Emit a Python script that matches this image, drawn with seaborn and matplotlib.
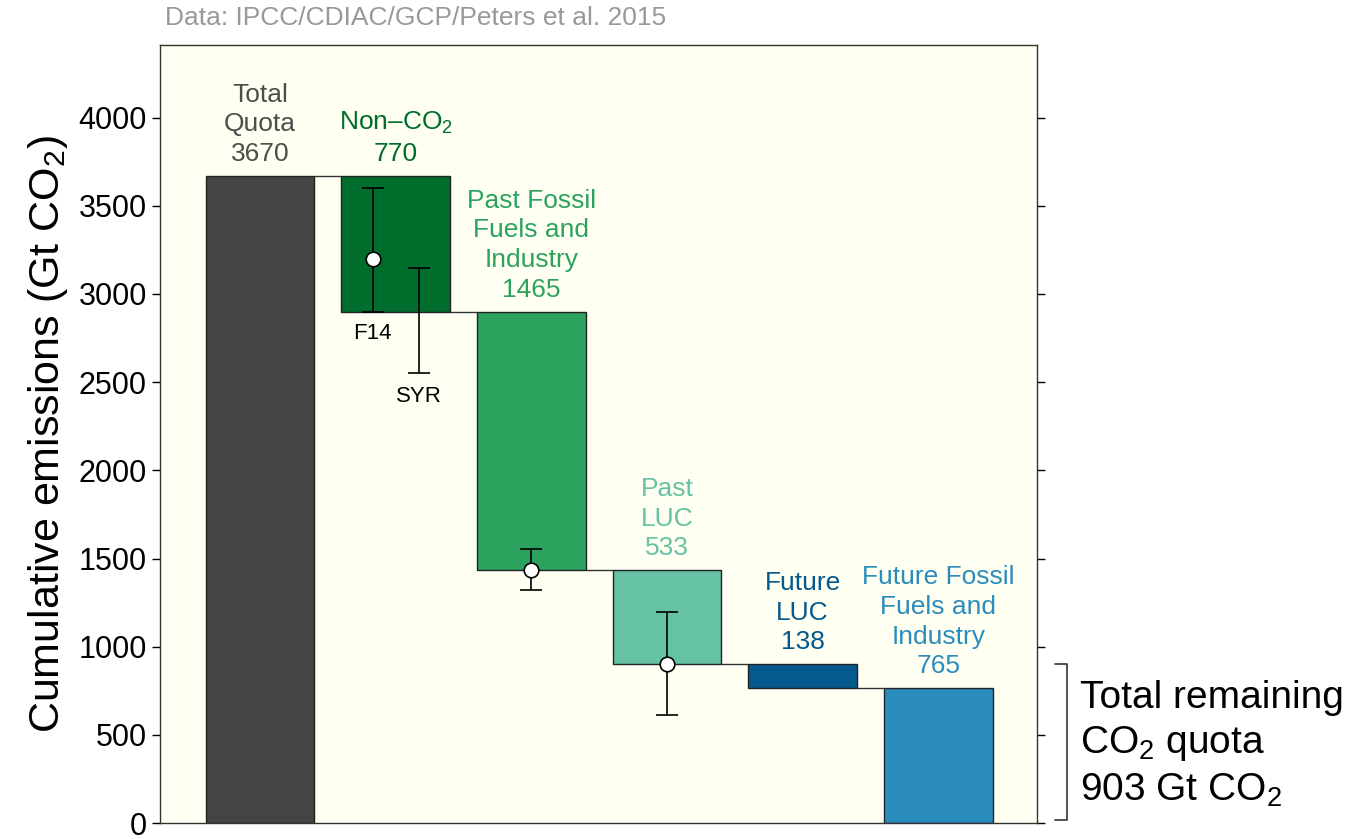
import matplotlib
matplotlib.use("Agg")
import matplotlib.pyplot as plt
import matplotlib.transforms as mtransforms
import seaborn as sns

# waterfall of the cumulative CO2 budget
categories = ["Total Quota", "Non-CO2", "Past FF&I", "Past LUC", "Future LUC", "Future FF&I"]
bar_labels = ["Total\nQuota", "Non\u2013CO$_2$", "Past Fossil\nFuels and\nIndustry", "Past\nLUC", "Future\nLUC",
              "Future Fossil\nFuels and\nIndustry"]
amounts = [3670, 770, 1465, 533, 138, 765]
bar_colors = ["#444444", "#006d2c", "#2ca25f", "#66c2a4", "#045a8d", "#2b8cbe"]
label_colors = ["#4d4d4d", "#006d2c", "#2ca25f", "#66c2a4", "#045a8d", "#2b8cbe"]

# uncertainty ranges (F14, SYR, past fossil, past LUC)
err_x = [0.83, 1.17, 2.0, 3.0]
err_low = [2900, 2550, 1320, 612]
err_high = [3600, 3150, 1552, 1195]
point_x = [0.83, 2.0, 3.0]
point_y = [3200, 1435, 903]
remaining = 903

sns.set_style("ticks")
plt.rcParams["font.family"] = ["Liberation Sans", "DejaVu Sans"]
plt.rcParams["mathtext.fontset"] = "custom"
plt.rcParams["mathtext.rm"] = "Liberation Sans"
plt.rcParams["mathtext.it"] = "Liberation Sans:italic"
plt.rcParams["text.color"] = "black"

# floating bars: first and last start at zero, the rest hang from the previous level
bottoms = [0]
level = amounts[0]
for a in amounts[1:-1]:
    level = level - a
    bottoms.append(level)
bottoms.append(0)
tops = [b + a for b, a in zip(bottoms, amounts)]
tops[-1] = amounts[-1]

fig, ax = plt.subplots(figsize=(13.57, 8.39), dpi=100)
fig.subplots_adjust(left=0.118, right=0.764, bottom=0.019, top=0.946)
ax.set_facecolor("#fffff2")

sns.barplot(x=categories, y=amounts, hue=categories, palette=bar_colors, saturation=1, width=0.8,
            edgecolor="#222222", linewidth=1, legend=False, ax=ax, zorder=2)
for patch, b in zip(ax.patches, bottoms):
    patch.set_y(b)

for i in range(len(categories) - 1):
    ax.hlines(tops[i + 1], i + 0.4, i + 0.6, color="#333333", lw=1, zorder=1)

centers = [(lo + hi) / 2 for lo, hi in zip(err_low, err_high)]
ax.errorbar(err_x, centers, yerr=[[c - lo for c, lo in zip(centers, err_low)],
                                  [hi - c for c, hi in zip(centers, err_high)]],
            fmt="none", ecolor="black", elinewidth=1.2, capsize=8, capthick=1.2, zorder=4)
sns.scatterplot(x=point_x, y=point_y, color="white", edgecolor="black", linewidth=1.2, s=110, zorder=5, ax=ax)

for i, (lab, amt) in enumerate(zip(bar_labels, amounts)):
    ax.annotate(f"{lab}\n{amt}", xy=(i, tops[i]), xytext=(0, 7), textcoords="offset points",
                ha="center", va="bottom", color=label_colors[i], fontsize=19, linespacing=1.3)

ax.annotate("F14", xy=(err_x[0], err_low[0]), xytext=(0, -8), textcoords="offset points",
            ha="center", va="top", fontsize=16, color="black")
ax.annotate("SYR", xy=(err_x[1], err_low[1]), xytext=(0, -9), textcoords="offset points",
            ha="center", va="top", fontsize=16, color="black")

# bracket for the remaining quota
trans = mtransforms.blended_transform_factory(ax.transAxes, ax.transData)
ax.plot([1.021, 1.034, 1.034, 1.021], [remaining, remaining, 20, 20], color="#333333", lw=1.2,
        transform=trans, clip_on=False)
ax.text(1.049, 445, "Total remaining\nCO$_2$ quota\n903 Gt CO$_2$", transform=trans, ha="left", va="center",
        fontsize=28, linespacing=1.3, color="black")

ax.set_xlim(-0.737, 5.726)
ax.set_ylim(0, 4410)
ax.set_xticks([])
ax.set_yticks(range(0, 4001, 500))
ax.tick_params(axis="y", left=True, right=True, direction="out", length=6, width=1, labelsize=22,
               colors="black")
ax.set_xlabel("")
ax.set_ylabel("Cumulative emissions (Gt CO$_2$)", fontsize=31, labelpad=6, color="black")
for s in ax.spines.values():
    s.set_visible(True)
    s.set_color("#333333")
    s.set_linewidth(1)

fig.text(165 / 1357, 1 - 18 / 839, "Data: IPCC/CDIAC/GCP/Peters et al. 2015", color="#999999", fontsize=19,
         ha="left", va="center")

fig.savefig("out.png", dpi=100, facecolor="w")
